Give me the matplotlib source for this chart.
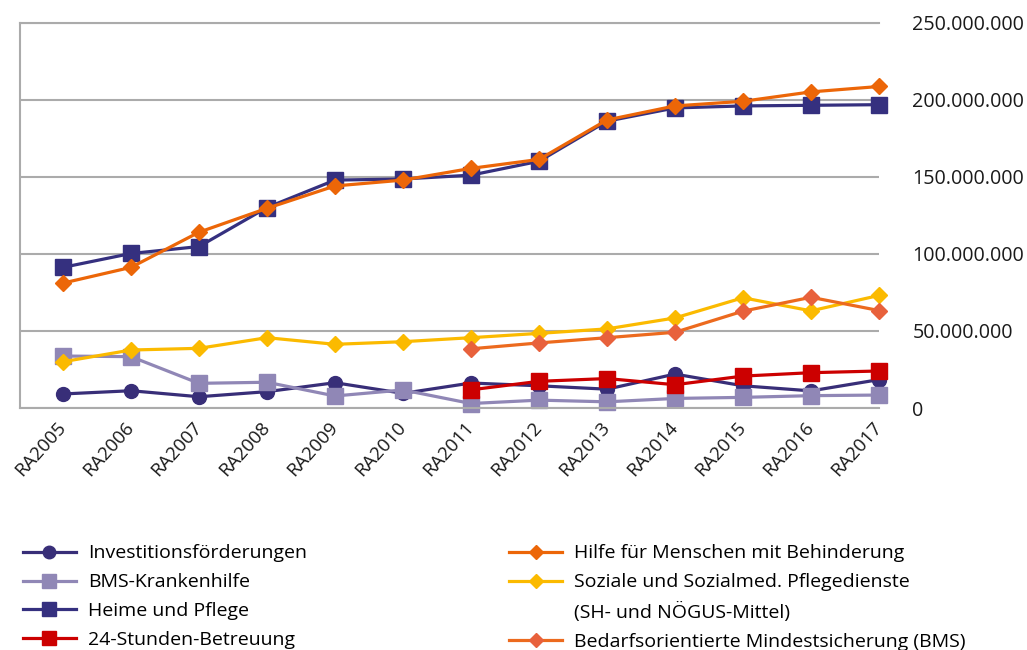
import matplotlib
matplotlib.use("Agg")
import matplotlib.pyplot as plt
from matplotlib.lines import Line2D
import numpy as np

nan = np.nan

# categories / series (EUR)
years = ['RA2005', 'RA2006', 'RA2007', 'RA2008', 'RA2009', 'RA2010', 'RA2011',
         'RA2012', 'RA2013', 'RA2014', 'RA2015', 'RA2016', 'RA2017']
investitionen = [9.1, 11.2, 7.3, 10.6, 16.4, 9.5, 16.2, 14.4, 12.2, 22.0, 14.4, 11.1, 18.4]
bms_kranken = [33.7, 33.3, 16.0, 16.7, 7.8, 11.7, 2.9, 5.1, 4.0, 6.2, 6.9, 8.0, 8.4]
heime = [91.2, 100.2, 104.7, 130.0, 147.8, 148.5, 151.0, 160.0, 186.0, 194.6, 195.9, 196.3, 196.7]
stunden24 = [nan, nan, nan, nan, nan, nan, 11.8, 17.3, 19.1, 15.1, 20.7, 22.9, 24.0]
behinderung = [81.0, 91.2, 114.0, 129.5, 144.0, 147.8, 155.4, 161.2, 186.8, 195.9, 198.9, 205.0, 208.5]
pflegedienste = [30.0, 37.6, 38.7, 45.6, 41.3, 43.0, 45.6, 48.4, 51.3, 58.4, 71.5, 63.0, 73.0]
bms = [nan, nan, nan, nan, nan, nan, 38.4, 42.2, 45.6, 49.1, 62.8, 71.8, 63.2]

yticks = [0, 50, 100, 150, 200, 250]

W, H = 1027, 650
fig = plt.figure(figsize=(W / 100, H / 100), dpi=100)
ax = fig.add_axes([20 / W, 1 - 408 / H, (879 - 20) / W, (408 - 22.5) / H])

x = np.arange(len(years))
M = 1e6

def draw(vals, color, marker, ms, label, mcolor=None):
    ax.plot(x, np.array(vals) * M, color=color, lw=2.3, marker=marker, ms=ms,
            mfc=mcolor or color, mec=mcolor or color, clip_on=False, label=label)

draw(investitionen, '#382E78', 'o', 10, 'Investitionsförderungen')
draw(bms_kranken, '#9087B6', 's', 11, 'BMS-Krankenhilfe')
draw(heime, '#35307F', 's', 11, 'Heime und Pflege')
draw(stunden24, '#CC0000', 's', 11, '24-Stunden-Betreuung')
draw(behinderung, '#EC6608', 'D', 8, 'Hilfe für Menschen mit Behinderung')
draw(pflegedienste, '#FBBA00', 'D', 8, 'Soziale und Sozialmed. Pflegedienste')
draw(bms, '#EC6A1E', 'D', 8, 'Bedarfsorientierte Mindestsicherung (BMS)', mcolor='#E8613C')

ax.set_xlim(-0.632, 12.0)
ax.set_ylim(0, 250 * M)

grid_c = '#ABABAB'
ax.set_yticks([v * M for v in yticks])
ax.yaxis.grid(True, color=grid_c, lw=1.5)
ax.set_axisbelow(True)
for s in ['top', 'bottom', 'left']:
    ax.spines[s].set_color(grid_c)
    ax.spines[s].set_linewidth(1.5)
ax.spines['right'].set_visible(False)

ax.yaxis.tick_right()
ax.set_yticklabels([f"{v * 1000000:,}".replace(',', '.') for v in yticks],
                   fontfamily='Open Sans', fontsize=14.2, color='#1a1a1a')
ax.tick_params(axis='y', length=0, pad=24)

ax.set_xticks(x)
ax.set_xticklabels(years, rotation=48, ha='right', va='center', rotation_mode='anchor',
                   fontfamily='Open Sans', fontsize=13.5, color='#1a1a1a')
ax.tick_params(axis='x', length=0, pad=12)

# legend, column-wise; the blank entry carries the second line of a label
h, l = ax.get_legend_handles_labels()
blank = Line2D([], [], color='none')
handles = h[:6] + [blank, h[6]]
labels = l[:6] + ['(SH- und NÖGUS-Mittel)', l[6]]
fig.legend(handles, labels, ncol=2, loc='upper left', bbox_to_anchor=(5 / W, 1 - 527 / H),
           frameon=False, prop={'family': 'Open Sans', 'size': 14}, handlelength=2.75,
           handletextpad=0.6, columnspacing=10.4, labelspacing=0.56, markerscale=0.9)

fig.savefig('out.png', dpi=100)
